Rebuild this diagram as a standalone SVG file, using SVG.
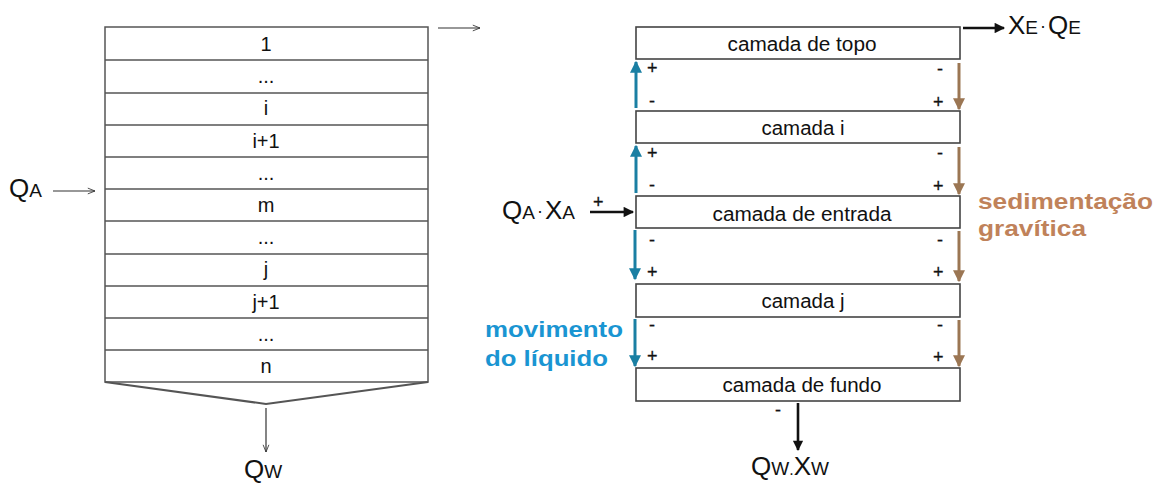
<svg xmlns="http://www.w3.org/2000/svg" width="1164" height="484" viewBox="0 0 1164 484">
<style>
text{font-family:"Liberation Sans",Arial,sans-serif;fill:#111}
.lbl{font-size:20px;text-anchor:middle}
.sg{font-size:18px;stroke:#111;stroke-width:0.3}
.box{fill:#fff;stroke:#444;stroke-width:1.6}
.thin{stroke:#333;stroke-width:1.2;fill:none}
.blue{stroke:#1a7fa3;stroke-width:3;fill:none}
.brown{stroke:#9b7653;stroke-width:3;fill:none}
.blk{stroke:#111;stroke-width:2.6;fill:none}
.big{font-size:26px}
.sub{font-size:19px}
.dot{font-size:18px}
</style>
<defs>
<marker id="hb" viewBox="0 0 10 10" refX="9" refY="5" markerWidth="5" markerHeight="4" orient="auto" markerUnits="strokeWidth"><path d="M0,0 L10,5 L0,10 z" fill="#1a7fa3"/></marker>
<marker id="hr" viewBox="0 0 10 10" refX="9" refY="5" markerWidth="5" markerHeight="4" orient="auto" markerUnits="strokeWidth"><path d="M0,0 L10,5 L0,10 z" fill="#9b7653"/></marker>
<marker id="hk" viewBox="0 0 10 10" refX="9" refY="5" markerWidth="5" markerHeight="4" orient="auto" markerUnits="strokeWidth"><path d="M0,0 L10,5 L0,10 z" fill="#111"/></marker>
<marker id="ho" viewBox="0 0 10 10" refX="10" refY="5" markerWidth="8" markerHeight="6" orient="auto" markerUnits="strokeWidth"><path d="M0,1 L10,5 L0,9" fill="none" stroke="#333" stroke-width="1.2"/></marker>
</defs>
<rect width="1164" height="484" fill="#fff"/>

<g id="stack-left">
<rect x="105" y="27" width="323" height="355" fill="#fff" stroke="#555" stroke-width="1.5"/>
<g stroke="#555" stroke-width="1.5">
<line x1="105" y1="60" x2="428" y2="60"/>
<line x1="105" y1="93" x2="428" y2="93"/>
<line x1="105" y1="125" x2="428" y2="125"/>
<line x1="105" y1="157" x2="428" y2="157"/>
<line x1="105" y1="189" x2="428" y2="189"/>
<line x1="105" y1="221" x2="428" y2="221"/>
<line x1="105" y1="254" x2="428" y2="254"/>
<line x1="105" y1="286" x2="428" y2="286"/>
<line x1="105" y1="318" x2="428" y2="318"/>
<line x1="105" y1="350" x2="428" y2="350"/>
</g>
<path d="M105,382 L266,404 L428,382" fill="none" stroke="#555" stroke-width="2"/>
<text class="lbl" x="266" y="51">1</text>
<text class="lbl" x="266" y="83">...</text>
<text class="lbl" x="266" y="115">i</text>
<text class="lbl" x="266" y="148">i+1</text>
<text class="lbl" x="266" y="180">...</text>
<text class="lbl" x="266" y="212">m</text>
<text class="lbl" x="266" y="244">...</text>
<text class="lbl" x="266" y="276">j</text>
<text class="lbl" x="266" y="309">j+1</text>
<text class="lbl" x="266" y="341">...</text>
<text class="lbl" x="266" y="373">n</text>
</g>

<g id="label-qa-left"><text x="9" y="197" class="big">Q<tspan class="sub">A</tspan></text></g>
<g id="label-qw-left"><text x="244" y="478" class="big">Q<tspan class="sub">W</tspan></text></g>

<g id="box-topo"><rect class="box" x="636" y="27" width="324" height="32"/><text class="lbl" x="802" y="51" textLength="149" lengthAdjust="spacingAndGlyphs">camada de topo</text></g>
<g id="box-i"><rect class="box" x="636" y="111" width="324" height="32"/><text class="lbl" x="803" y="135" textLength="83" lengthAdjust="spacingAndGlyphs">camada i</text></g>
<g id="box-entrada"><rect class="box" x="636" y="196" width="324" height="32"/><text class="lbl" x="802" y="221" textLength="179" lengthAdjust="spacingAndGlyphs">camada de entrada</text></g>
<g id="box-j"><rect class="box" x="636" y="284" width="324" height="33"/><text class="lbl" x="803" y="308" textLength="83" lengthAdjust="spacingAndGlyphs">camada j</text></g>
<g id="box-fundo"><rect class="box" x="636" y="368" width="324" height="33"/><text class="lbl" x="802" y="392" textLength="159" lengthAdjust="spacingAndGlyphs">camada de fundo</text></g>

<g id="label-qaxa"><text x="502" y="219" class="big">Q<tspan class="sub">A</tspan><tspan class="dot" dx="2" dy="-2">·</tspan><tspan dx="2" dy="2">X</tspan><tspan class="sub">A</tspan></text></g>
<g id="label-xeqe"><text x="1008" y="34" class="big">X<tspan class="sub">E</tspan><tspan class="dot" dx="2" dy="-2">·</tspan><tspan dx="2" dy="2">Q</tspan><tspan class="sub">E</tspan></text></g>
<g id="label-qwxw"><text x="751" y="475" class="big">Q<tspan class="sub">W</tspan><tspan font-size="16">.</tspan>X<tspan class="sub">W</tspan></text></g>

<g id="label-sed"><text x="978" y="209" font-size="22" font-weight="bold" style="fill:#c0825a" textLength="175" lengthAdjust="spacingAndGlyphs">sedimentação</text><text x="978" y="236" font-size="22" font-weight="bold" style="fill:#c0825a" textLength="108" lengthAdjust="spacingAndGlyphs">gravítica</text></g>
<g id="label-mov"><text x="485" y="337" font-size="22" font-weight="bold" style="fill:#1a95d2" textLength="138" lengthAdjust="spacingAndGlyphs">movimento</text><text x="485" y="366" font-size="22" font-weight="bold" style="fill:#1a95d2" textLength="123" lengthAdjust="spacingAndGlyphs">do líquido</text></g>

<g id="connectors">
<line class="thin" x1="438" y1="28" x2="480" y2="28" marker-end="url(#ho)"/>
<line class="thin" x1="53" y1="191" x2="95" y2="191" marker-end="url(#ho)"/>
<line class="thin" x1="266" y1="408" x2="266" y2="452" marker-end="url(#ho)"/>

<line class="blue" x1="636" y1="108" x2="636" y2="62" marker-end="url(#hb)"/>
<line class="blue" x1="636" y1="193" x2="636" y2="146" marker-end="url(#hb)"/>
<line class="blue" x1="635" y1="230" x2="635" y2="279" marker-end="url(#hb)"/>
<line class="blue" x1="635" y1="319" x2="635" y2="366" marker-end="url(#hb)"/>

<line class="brown" x1="959" y1="63" x2="959" y2="109" marker-end="url(#hr)"/>
<line class="brown" x1="959" y1="147" x2="959" y2="194" marker-end="url(#hr)"/>
<line class="brown" x1="959" y1="231" x2="959" y2="281" marker-end="url(#hr)"/>
<line class="brown" x1="959" y1="320" x2="959" y2="366" marker-end="url(#hr)"/>

<line class="blk" x1="590" y1="212" x2="633" y2="212" marker-end="url(#hk)"/>
<line class="blk" x1="963" y1="28" x2="1004" y2="28" marker-end="url(#hk)"/>
<line class="blk" x1="798" y1="403" x2="798" y2="450" marker-end="url(#hk)"/>
</g>

<g id="signs">
<text class="sg" x="647" y="74">+</text><text class="sg" x="649" y="107">-</text>
<text class="sg" x="647" y="159">+</text><text class="sg" x="649" y="191">-</text>
<text class="sg" x="649" y="246">-</text><text class="sg" x="647" y="278">+</text>
<text class="sg" x="649" y="331">-</text><text class="sg" x="647" y="362">+</text>
<text class="sg" x="937" y="75">-</text><text class="sg" x="933" y="108">+</text>
<text class="sg" x="937" y="159">-</text><text class="sg" x="933" y="192">+</text>
<text class="sg" x="937" y="246">-</text><text class="sg" x="933" y="278">+</text>
<text class="sg" x="937" y="331">-</text><text class="sg" x="933" y="363">+</text>
<text class="sg" x="593" y="208">+</text>
<text class="sg" x="775" y="416">-</text>
</g>
</svg>
